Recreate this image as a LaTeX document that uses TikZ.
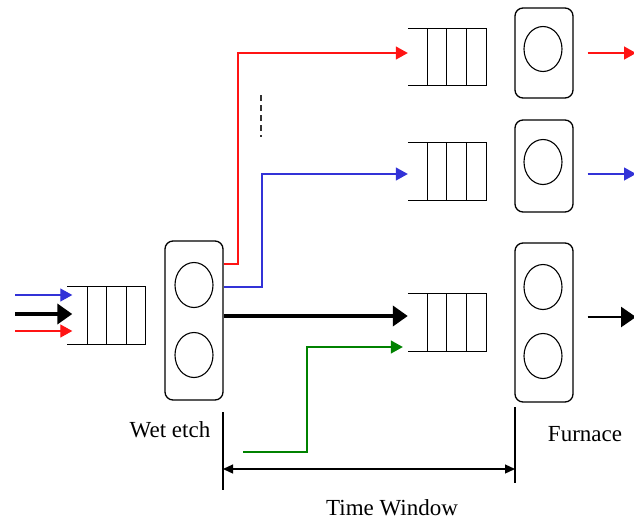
\documentclass[tikz,border=0pt]{standalone}
\usepackage{fontspec}
\setmainfont{Liberation Serif}
\usetikzlibrary{arrows.meta,shapes.geometric}
\definecolor{rd}{RGB}{255,20,20}
\definecolor{bl}{RGB}{50,50,215}
\definecolor{gr}{RGB}{0,130,0}
\tikzset{
  machine/.style={draw, line width=1.3pt, rounded corners=8pt, minimum width=58pt, inner sep=0pt},
  slot/.style={draw, line width=1.1pt, ellipse, minimum width=38pt, minimum height=45pt, inner sep=0pt},
  queuearea/.style={minimum width=78pt, minimum height=57pt, inner sep=0pt},
  qline/.style={line width=1.3pt},
  thin tip/.style={-{Triangle[length=12pt,width=13pt]}},
  colline/.style={line width=1.3pt, thin tip},
  thickline/.style={line width=3.8pt, -{Triangle[length=15pt,width=20pt]}},
  lbl/.style={font=\fontsize{23pt}{26pt}\selectfont, inner sep=0pt},
}
\newcommand{\drawqueue}[1]{%
  \draw[qline] (#1.north west) -- (#1.north east) -- (#1.south east) -- (#1.south west);
  \foreach \dx in {20,39,59}{\draw[qline] ([xshift=\dx pt]#1.north west) -- ([xshift=\dx pt]#1.south west);}
}
\begin{document}
\begin{tikzpicture}[x=1pt,y=-1pt]
\useasboundingbox (0,0) rectangle (634,523);
% queues
\node[queuearea] (q0) at (106.5,315.5) {};
\node[queuearea] (q1) at (447,57) {};
\node[queuearea] (q2) at (447,171.5) {};
\node[queuearea] (q3) at (447,322.5) {};
\drawqueue{q0}
\drawqueue{q1}
\drawqueue{q2}
\drawqueue{q3}
% machines
\node[machine, minimum height=159pt] (wet) at (194,320.5) {};
\node[slot] (w1) at (194,285) {};
\node[slot] (w2) at (194,355) {};
\node[machine, minimum height=90pt] (f1) at (544,53) {};
\node[slot] (f1a) at (543,49) {};
\node[machine, minimum height=92pt] (f2) at (544,166) {};
\node[slot] (f2a) at (543,162) {};
\node[machine, minimum height=159pt] (f3) at (544,322.5) {};
\node[slot] (f3a) at (543,287) {};
\node[slot] (f3b) at (543,356) {};
% input arrows
\coordinate (inb) at (15,295);
\coordinate (ink) at (15,314);
\coordinate (inr) at (15,331);
\draw[colline, bl] (inb) -- ([xshift=5pt]q0.west |- inb);
\draw[thickline] (ink) -- ([xshift=5pt]q0.west |- ink);
\draw[colline, rd] (inr) -- ([xshift=5pt]q0.west |- inr);
% routing from wet etch
\draw[colline, rd] (wet.east |- 0,264) -| (238,53) -- (q1.west |- 0,53);
\draw[colline, bl] (wet.east |- 0,287) -| (262,174) -- (q2.west |- 0,174);
\draw[thickline] (wet.east |- 0,316) -- (q3.west |- 0,316);
\coordinate (gstart) at (243,452);
\draw[colline, gr] (gstart) -| (307,347) -- ([xshift=-5pt]q3.west |- 0,347);
\draw[line width=1.5pt, dash pattern=on 6pt off 4pt, black!80] (261,95) -- (261,137);
% outputs
\coordinate (o1) at (636,53);
\coordinate (o2) at (636,174);
\coordinate (o3) at (636,317);
\draw[colline, rd] (f1.east |- o1) ++(14,0) -- (o1);
\draw[colline, bl] (f2.east |- o2) ++(14,0) -- (o2);
\draw[thickline, line width=2.6pt] (f3.east |- o3) ++(14,0) -- (o3);
% time window
\coordinate (t1a) at (223,412);
\coordinate (t1b) at (223,490);
\coordinate (t2a) at (515,407);
\coordinate (t2b) at (515,483);
\draw[line width=1.2pt] (t1a) -- (t1b);
\draw[line width=1.2pt] (t2a) -- (t2b);
\draw[line width=1.2pt, {Triangle[length=10pt,width=9pt]}-{Triangle[length=10pt,width=9pt]}] (t1a |- 0,469) -- (t2a |- 0,469);
% labels
\node[lbl] (lwet) at (170,430) {Wet etch};
\node[lbl] (lfur) at (585,434) {Furnace};
\node[lbl] (ltw) at (392,508) {Time Window};
\end{tikzpicture}
\end{document}
